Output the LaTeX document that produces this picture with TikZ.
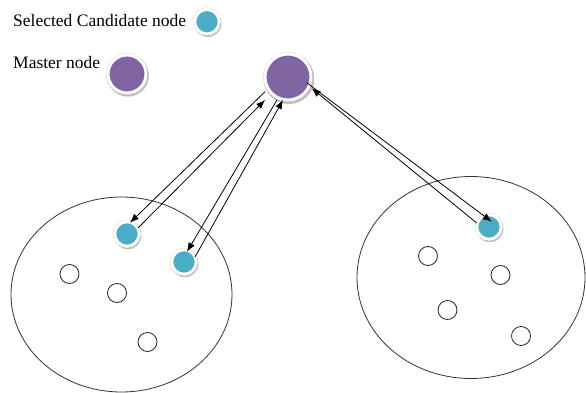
\documentclass[tikz,border=0pt]{standalone}
\usepackage{fontspec}
\setmainfont{Liberation Serif}
\usetikzlibrary{calc,shadows,arrows.meta}
\definecolor{candfill}{HTML}{4BACC6}
\definecolor{masterfill}{HTML}{8064A2}
\tikzset{
  ringnode/.style={circle, inner sep=0pt, draw=white, line width=3pt,
    preaction={draw=black!12, line width=4.2pt},
    drop shadow={shadow xshift=0.9pt, shadow yshift=-1.6pt, shadow scale=1.1,
      fill=black!45, opacity=0.55}},
  candnode/.style={ringnode, fill=candfill, minimum size=24.5pt},
  masternode/.style={ringnode, fill=masterfill, minimum size=#1},
  masternode/.default=46pt,
  plainnode/.style={circle, inner sep=0pt, draw=black!85, line width=0.8pt, minimum size=19pt},
  cluster/.style={draw=black!80, line width=0.8pt},
  link/.style={draw=black, line width=0.8pt, -{Latex[length=9pt,width=7pt]}},
  legendtext/.style={anchor=base west, inner sep=0pt, font=\fontsize{17.5}{20}\selectfont}
}
\begin{document}
\begin{tikzpicture}[x=1pt,y=-1pt]
  \useasboundingbox (0,0) rectangle (586,393);

  % clusters
  \draw[cluster] (121.5,294.5) ellipse [x radius=110.5, y radius=97.5];
  \draw[cluster] (471,277.5) ellipse [x radius=114, y radius=101];

  % legend
  \node[legendtext] (lcandtxt) at (13,26.7) {Selected Candidate node};
  \node[candnode] (lcand) at (207,21.7) {};
  \node[legendtext] (lmastertxt) at (13,69) {Master node};
  \node[masternode=38pt] (lmaster) at (127,74) {};

  % master and selected candidates
  \node[masternode] (m) at (288,77) {};
  \node[candnode] (c1) at (127,234) {};
  \node[candnode] (c2) at (184,262) {};
  \node[candnode] (c3) at (489,227) {};

  % ordinary members of the left cluster
  \node[plainnode] (p1) at (69.5,274) {};
  \node[plainnode] (p2) at (117,293) {};
  \node[plainnode] (p3) at (147.5,342) {};

  % ordinary members of the right cluster
  \node[plainnode] (q1) at (428,256) {};
  \node[plainnode] (q2) at (500.5,275) {};
  \node[plainnode] (q3) at (447.5,310) {};
  \node[plainnode] (q4) at (521,336) {};

  % messages between master and candidates
  \draw[link] ($(m)+(-23,14.7)$) -- ($(c1)+(3,-11.3)$);
  \draw[link] ($(c1)+(11,-6)$) -- ($(m)+(-23,23)$);
  \draw[link] ($(m)+(-11,23)$) -- ($(c2)+(3,-10.3)$);
  \draw[link] ($(c2)+(11,-5)$) -- ($(m)+(-5,23)$);
  \draw[link] ($(m)+(18.7,5.7)$) -- ($(c3)+(2.7,-5.3)$);
  \draw[link] ($(c3)+(-12.3,-4)$) -- ($(m)+(23.7,11.3)$);
\end{tikzpicture}
\end{document}
